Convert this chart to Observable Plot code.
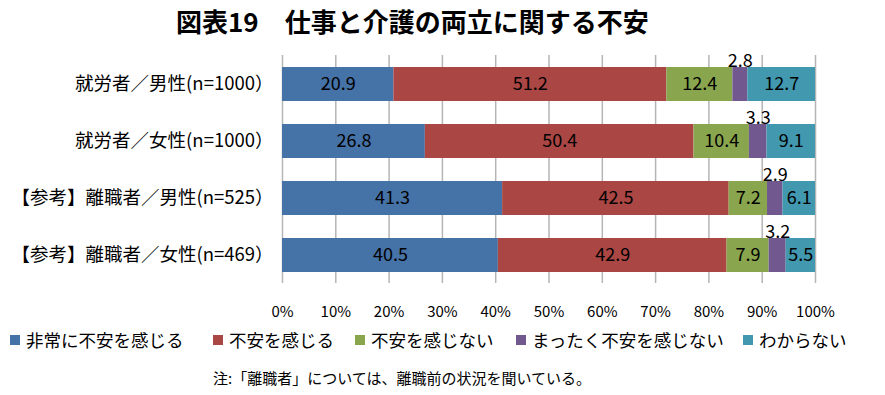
<!DOCTYPE html>
<html>
<head>
<meta charset="utf-8">
<script src="https://cdn.jsdelivr.net/npm/d3@7"></script>
<script src="https://cdn.jsdelivr.net/npm/@observablehq/plot@0.6"></script>
<style>
  html, body { margin: 0; padding: 0; background: #fff; }
  body { width: 885px; height: 395px; position: relative; overflow: hidden; font-family: "Noto Sans CJK JP", sans-serif; color: #000; }
  #title { position: absolute; left: 176px; top: 0; height: 42px; line-height: 42px; font-size: 26px; font-weight: 700; white-space: nowrap; }
  #chart { position: absolute; left: 0; top: 40px; }
  #legend { position: absolute; left: 0; top: 325px; height: 30px; width: 885px; }
  .item { position: absolute; top: 0; height: 30px; line-height: 30px; font-size: 17.5px; white-space: nowrap; }
  .sw { position: absolute; left: 0; top: 10px; width: 10px; height: 10px; }
  .lbl { position: absolute; left: 16px; top: 0; }
  #note { position: absolute; left: 213px; top: 363px; height: 30px; line-height: 30px; font-size: 15px; white-space: nowrap; }
</style>
</head>
<body>
<div id="title">図表19　仕事と介護の両立に関する不安</div>
<div id="chart"></div>
<div id="legend"></div>
<div id="note">注:「離職者」については、離職前の状況を聞いている。</div>
<script>
const categories = ["就労者／男性(n=1000）", "就労者／女性(n=1000）", "【参考】離職者／男性(n=525）", "【参考】離職者／女性(n=469）"];
const seriesNames = ["非常に不安を感じる", "不安を感じる", "不安を感じない", "まったく不安を感じない", "わからない"];
const colors = ["#4572a7", "#aa4643", "#89a54e", "#71588f", "#4198af"];
const veryAnxious = [20.9, 26.8, 41.3, 40.5];
const anxious = [51.2, 50.4, 42.5, 42.9];
const notAnxious = [12.4, 10.4, 7.2, 7.9];
const notAtAll = [2.8, 3.3, 2.9, 3.2];
const unknown = [12.7, 9.1, 6.1, 5.5];
const xTicks = [0, 10, 20, 30, 40, 50, 60, 70, 80, 90, 100];
const legendX = [10, 213, 355, 516, 743];

const seriesValues = [veryAnxious, anxious, notAnxious, notAtAll, unknown];
const rows = [];
categories.forEach((c, i) => {
  seriesNames.forEach((s, j) => {
    rows.push({category: c, series: s, value: seriesValues[j][i]});
  });
});
const smallSeries = seriesNames[3];

const chart = Plot.plot({
  width: 885,
  height: 285,
  marginLeft: 282,
  marginRight: 70,
  marginTop: 15,
  marginBottom: 42,
  style: {fontFamily: "'Noto Sans CJK JP', sans-serif", color: "#000", background: "#fff"},
  x: {domain: [0, 100]},
  y: {domain: categories, paddingInner: 0.41, paddingOuter: 0.205},
  color: {domain: seriesNames, range: colors},
  marks: [
    Plot.gridX(xTicks, {stroke: "#b5b5b5", strokeOpacity: 1, strokeWidth: 1.5}),
    Plot.barX(rows, Plot.stackX({x: "value", y: "category", fill: "series", order: seriesNames})),
    Plot.text(rows, Plot.stackX({
      x: "value", y: "category", z: "series", order: seriesNames,
      text: d => d.series === smallSeries ? null : d.value.toFixed(1),
      fontSize: 18, fill: "#000"
    })),
    Plot.text(rows, Plot.stackX({
      x: "value", y: "category", z: "series", order: seriesNames,
      text: d => d.series === smallSeries ? d.value.toFixed(1) : null,
      fontSize: 18, fill: "#000", dy: -23
    })),
    Plot.axisX(xTicks, {tickSize: 0, tickPadding: 23, tickFormat: d => d + "%", fontSize: 15, label: null}),
    Plot.axisY({tickSize: 0, tickPadding: 9, fontSize: 18.5, label: null})
  ]
});
document.getElementById("chart").appendChild(chart);

const legend = document.getElementById("legend");
seriesNames.forEach((s, i) => {
  const item = document.createElement("div");
  item.className = "item";
  item.style.left = legendX[i] + "px";
  const sw = document.createElement("div");
  sw.className = "sw";
  sw.style.background = colors[i];
  const lbl = document.createElement("div");
  lbl.className = "lbl";
  lbl.textContent = s;
  item.appendChild(sw);
  item.appendChild(lbl);
  legend.appendChild(item);
});
</script>
</body>
</html>
